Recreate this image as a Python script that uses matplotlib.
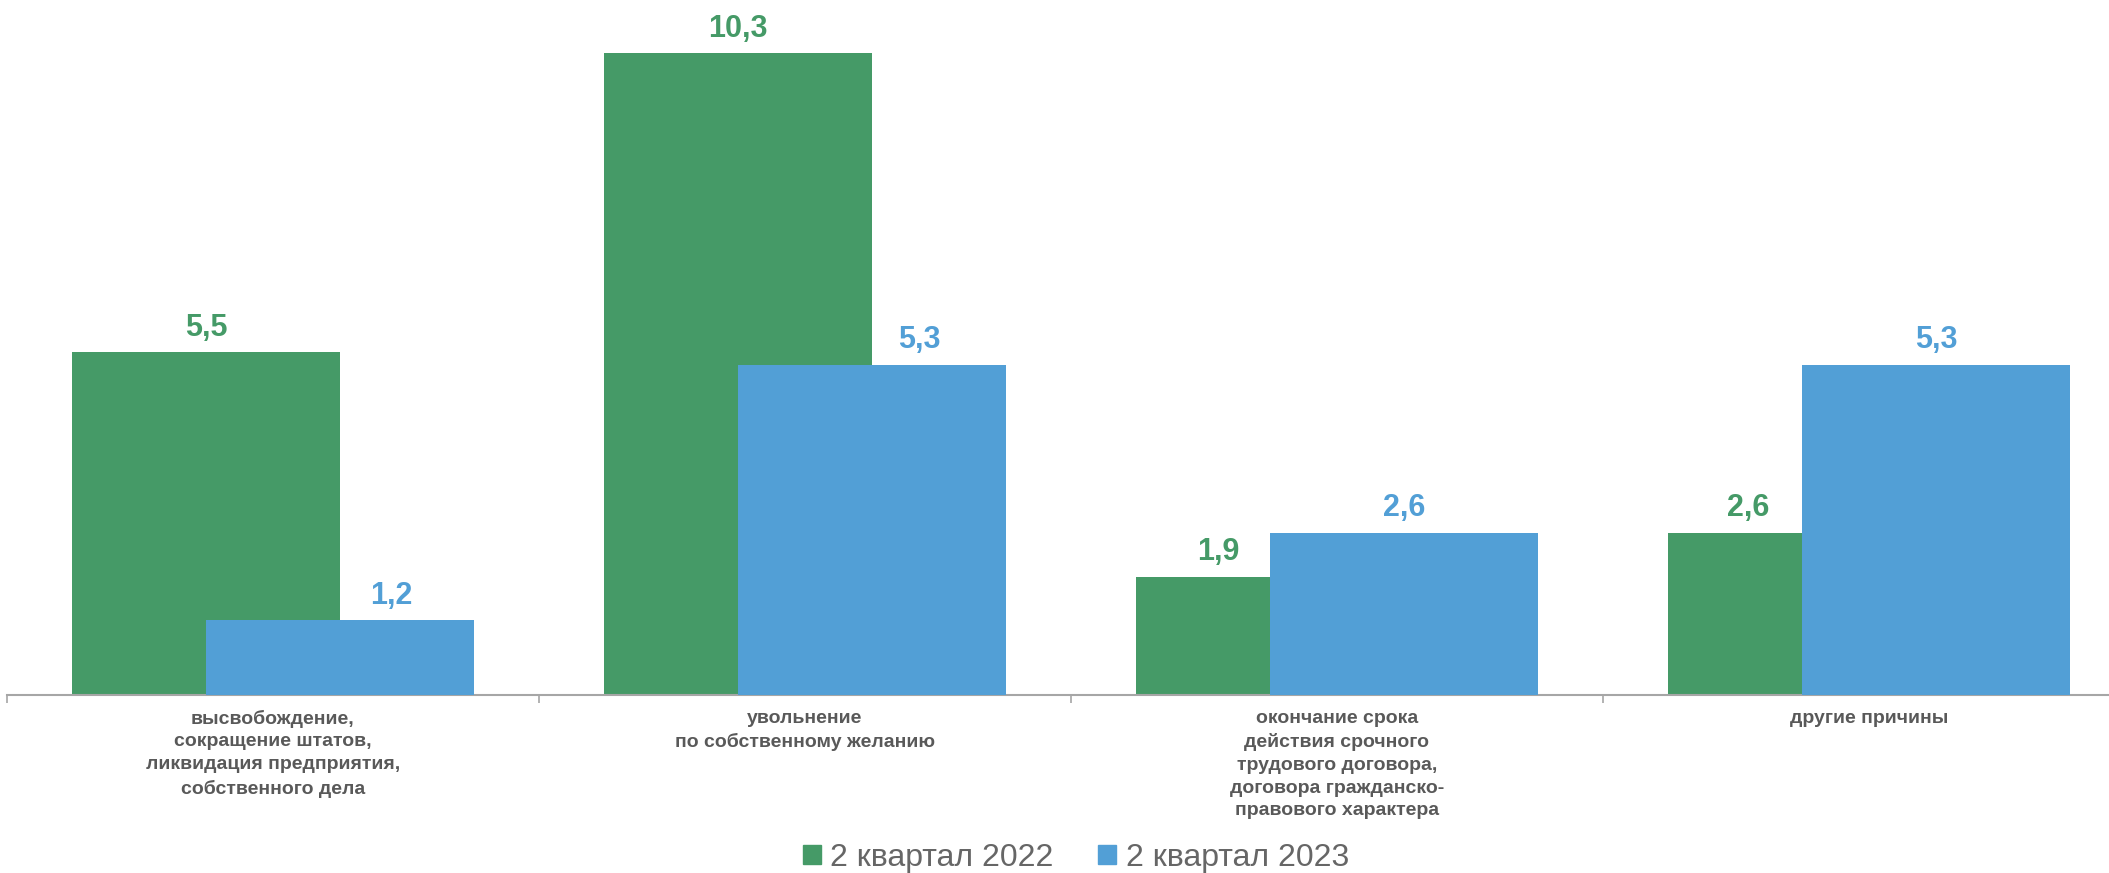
import numpy as np
import matplotlib.pyplot as plt
from matplotlib.patches import Patch

plt.rcParams['font.family'] = ['Liberation Sans', 'DejaVu Sans']

# reasons for leaving work, two quarters compared
categories = ['высвобождение,\nсокращение штатов,\nликвидация предприятия,\nсобственного дела',
              'увольнение\nпо собственному желанию',
              'окончание срока\nдействия срочного\nтрудового договора,\nдоговора гражданско-\nправового характера',
              'другие причины']
q2_2022 = [5.5, 10.3, 1.9, 2.6]
q2_2023 = [1.2, 5.3, 2.6, 5.3]
series_names = ['2 квартал 2022', '2 квартал 2023']

green = '#459A67'
blue = '#529FD6'
gray_text = '#595959'
axis_col = '#A6A6A6'

# labels were nudged sideways in the source so they don't sit on the other bar (points)
nudge_2022 = [0, 0, -37, -39]
nudge_2023 = [37, 34, 0, 0]

W, H = 2109, 873
fig = plt.figure(figsize=(W / 100, H / 100), dpi=100)

# axes stretch a bit past the right edge, like the source
ax_left, ax_right, ax_bottom = 7, 2135, 695
ax = fig.add_axes([ax_left / W, 1 - ax_bottom / H, (ax_right - ax_left) / W, ax_bottom / H])

x = np.arange(len(categories))
bar_w = 0.503   # bars overlap in the source
shift = 0.126

ax.bar(x - shift, q2_2022, width=bar_w, color=green, zorder=2)
ax.bar(x + shift, q2_2023, width=bar_w, color=blue, zorder=3)

for xi, v, dx in zip(x, q2_2022, nudge_2022):
    ax.annotate(f'{v:.1f}'.replace('.', ','), (xi - shift, v), xytext=(dx, 12),
                textcoords='offset points', ha='center', va='baseline',
                fontsize=22, fontweight='bold', color=green, zorder=5)
for xi, v, dx in zip(x, q2_2023, nudge_2023):
    ax.annotate(f'{v:.1f}'.replace('.', ','), (xi + shift, v), xytext=(dx, 12),
                textcoords='offset points', ha='center', va='baseline',
                fontsize=22, fontweight='bold', color=blue, zorder=5)

ax.set_xlim(-0.5, len(categories) - 0.5)
ax.set_ylim(0, ax_bottom / 62.3)

for s in ['top', 'right', 'left']:
    ax.spines[s].set_visible(False)
ax.spines['bottom'].set_color(axis_col)
ax.spines['bottom'].set_linewidth(1.5)
ax.set_yticks([])

ax.set_xticks(x)
ax.set_xticklabels(categories, fontsize=14, fontweight='bold', color=gray_text,
                   linespacing=1.45, va='top')
ax.tick_params(axis='x', which='major', length=0, pad=10.5)
ax.set_xticks(np.arange(len(categories) + 1) - 0.5, minor=True)
ax.tick_params(axis='x', which='minor', length=6, color=axis_col, width=1.2)

handles = [Patch(color=green, label=series_names[0]),
           Patch(color=blue, label=series_names[1])]
fig.legend(handles=handles, loc='center', bbox_to_anchor=(1076 / W, 1 - 858 / H),
           ncol=2, frameon=False, fontsize=23, labelcolor='#666666',
           handlelength=0.55, handleheight=0.55, handletextpad=0.3,
           columnspacing=1.4)

fig.savefig('out.png', dpi=100)
